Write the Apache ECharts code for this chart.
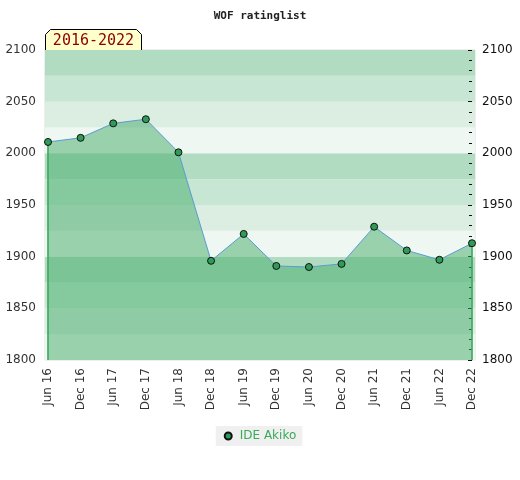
<!DOCTYPE html>
<html>
<head>
<meta charset="UTF-8">
<title>WOF ratinglist</title>
<style>
  html, body { margin: 0; padding: 0; background: #fff; }
  #main { width: 520px; height: 480px; }
</style>
</head>
<body>
<div id="main"></div>
<script src="https://cdn.jsdelivr.net/npm/echarts@6/dist/echarts.min.js"></script>
<script>
// periods and ratings
var periods = ['Jun 16', 'Dec 16', 'Jun 17', 'Dec 17', 'Jun 18', 'Dec 18', 'Jun 19',
               'Dec 19', 'Jun 20', 'Dec 20', 'Jun 21', 'Dec 21', 'Jun 22', 'Dec 22'];
var ratings = [2011, 2015, 2029, 2033, 2001, 1896, 1922, 1891, 1890, 1893, 1929, 1906, 1897, 1913];
var playerName = 'IDE Akiko';
var rangeLabel = '2016-2022';
var yMin = 1800, yMax = 2100;

// background bands, counted from yMin upward
var bandColors = ['#eef7f1', '#dcede2', '#c8e6d4', '#b2dcc2'];

var last = ratings.length - 1;
var labelFont = 'DejaVu Sans';
var plain = function (v) { return String(v); };
var myChart = echarts.init(document.getElementById('main'));

myChart.setOption({
    animation: false,
    title: {
        text: 'WOF ratinglist',
        left: 'center',
        top: 6,
        textStyle: { fontFamily: 'DejaVu Sans Mono', fontSize: 11, fontWeight: 'bold', color: '#222' }
    },
    legend: {
        data: [playerName],
        left: 'center',
        top: 426,
        icon: 'circle',
        itemWidth: 7,
        itemHeight: 7,
        backgroundColor: '#f0f0f0',
        padding: [4, 6, 4, 8],
        textStyle: { color: '#3aaa5a', fontSize: 12, fontFamily: labelFont, padding: [0, 0, 0, 3] }
    },
    grid: [
        { left: 45, right: 45, top: 50, bottom: 120, show: true, borderColor: '#ddd', borderWidth: 1, backgroundColor: 'transparent' },
        { left: 48, right: 48, top: 50, bottom: 120 }
    ],
    xAxis: [
        { gridIndex: 0, type: 'value', show: false, min: 0, max: 1 },
        {
            gridIndex: 1, type: 'category', data: periods, boundaryGap: false,
            axisLine: { show: false }, axisTick: { show: false },
            axisLabel: { rotate: 90, margin: 8, color: '#333', fontSize: 12, fontFamily: labelFont, interval: 0 }
        }
    ],
    yAxis: [
        {
            gridIndex: 0, type: 'value', min: yMin, max: yMax, interval: 25,
            axisLabel: { show: false }, axisLine: { show: false }, axisTick: { show: false },
            splitLine: { show: false },
            splitArea: { show: true, areaStyle: { color: bandColors } }
        },
        {
            gridIndex: 1, type: 'value', position: 'left', min: yMin, max: yMax, interval: 50,
            axisLine: { show: false }, axisTick: { show: false }, splitLine: { show: false },
            axisLabel: { margin: 12, color: '#333', fontSize: 12, fontFamily: labelFont, formatter: plain }
        },
        {
            gridIndex: 1, type: 'value', position: 'right', min: yMin, max: yMax, interval: 50,
            axisLine: { show: false }, splitLine: { show: false },
            axisTick: { show: true, inside: true, length: 4, lineStyle: { color: '#111' } },
            minorTick: { show: true, splitNumber: 5, length: 3, lineStyle: { color: '#111' } },
            axisLabel: { margin: 10, color: '#111', fontSize: 12, fontFamily: labelFont, formatter: plain }
        }
    ],
    graphic: [{
        type: 'group',
        left: 45,
        top: 29,
        z: 100,
        children: [
            {
                type: 'polygon',
                shape: { points: [[0, 5], [5, 0], [91, 0], [96, 5], [96, 22], [0, 22]] },
                style: { fill: '#ffffcc', stroke: '#000', lineWidth: 1 }
            },
            {
                type: 'text',
                x: 48, y: 12,
                style: {
                    text: rangeLabel, fill: '#8b0000', font: '15px "DejaVu Sans Mono"',
                    align: 'center', verticalAlign: 'middle'
                }
            }
        ]
    }],
    series: [{
        name: playerName,
        type: 'line',
        xAxisIndex: 1,
        yAxisIndex: 1,
        data: ratings,
        symbol: 'circle',
        symbolSize: 7,
        z: 5,
        lineStyle: { color: '#5b9bd5', width: 1 },
        itemStyle: { color: '#2e9b57', borderColor: '#111', borderWidth: 1 },
        areaStyle: { color: 'rgb(66,172,104)', opacity: 0.5, origin: 'start' },
        markLine: {
            silent: true,
            symbol: 'none',
            label: { show: false },
            lineStyle: { color: '#2ca34f', type: 'solid', width: 1.5 },
            data: [
                [{ coord: [0, ratings[0]] }, { coord: [0, yMin] }],
                [{ coord: [last, ratings[last]] }, { coord: [last, yMin] }]
            ]
        }
    }]
});
</script>
</body>
</html>
